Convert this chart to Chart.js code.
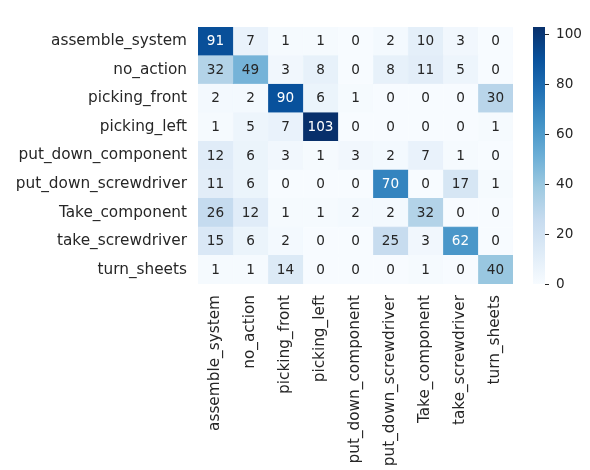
<!DOCTYPE html>
<html>
<head>
<meta charset="utf-8">
<script src="https://cdn.jsdelivr.net/npm/chart.js@4"></script>
<style>
  html, body { margin: 0; padding: 0; background: #fff; }
</style>
</head>
<body>
<canvas id="confusion" width="590" height="470"></canvas>
<script>
const classes = ['assemble_system', 'no_action', 'picking_front', 'picking_left',
  'put_down_component', 'put_down_screwdriver', 'Take_component', 'take_screwdriver', 'turn_sheets'];

// rows = true label, columns = predicted label
const counts = [
  [91, 7, 1, 1, 0, 2, 10, 3, 0],
  [32, 49, 3, 8, 0, 8, 11, 5, 0],
  [2, 2, 90, 6, 1, 0, 0, 0, 30],
  [1, 5, 7, 103, 0, 0, 0, 0, 1],
  [12, 6, 3, 1, 3, 2, 7, 1, 0],
  [11, 6, 0, 0, 0, 70, 0, 17, 1],
  [26, 12, 1, 1, 2, 2, 32, 0, 0],
  [15, 6, 2, 0, 0, 25, 3, 62, 0],
  [1, 1, 14, 0, 0, 0, 1, 0, 40]
];

const colorbarTicks = [0, 20, 40, 60, 80, 100];
const vmin = 0;
const vmax = 103;

const TEXT = '#262626';
const FONT = 'DejaVu Sans';

// matplotlib "Blues"
const blues = ['#f7fbff', '#deebf7', '#c6dbef', '#9ecae1', '#6baed6',
  '#4292c6', '#2171b5', '#08519c', '#08306b'];

function hexToRgb(h) {
  return [1, 3, 5].map(i => parseInt(h.slice(i, i + 2), 16));
}
const bluesRgb = blues.map(hexToRgb);

function bluesAt(v) {
  let t = (v - vmin) / (vmax - vmin);
  t = Math.max(0, Math.min(1, t));
  const pos = t * (bluesRgb.length - 1);
  const i = Math.min(Math.floor(pos), bluesRgb.length - 2);
  const f = pos - i;
  const a = bluesRgb[i], b = bluesRgb[i + 1];
  return a.map((c, k) => Math.round(c + (b[k] - c) * f));
}

function rgbStr(c) {
  return 'rgb(' + c.join(',') + ')';
}

// same rule seaborn uses to pick white or dark annotation text
function annotColor(c) {
  const lin = c.map(x => {
    x = x / 255;
    return x <= 0.03928 ? x / 12.92 : Math.pow((x + 0.055) / 1.055, 2.4);
  });
  const lum = 0.2126 * lin[0] + 0.7152 * lin[1] + 0.0722 * lin[2];
  return lum > 0.408 ? TEXT : '#ffffff';
}

// one dataset per predicted column, each cell a floating bar [j, j+1]
const datasets = classes.map((c, j) => ({
  label: c,
  data: classes.map(() => [j, j + 1]),
  backgroundColor: counts.map(row => rgbStr(bluesAt(row[j]))),
  borderColor: counts.map(row => rgbStr(bluesAt(row[j]))),
  borderWidth: 0.6,
  borderSkipped: false,
  barPercentage: 1,
  categoryPercentage: 1,
  grouped: false
}));

const cellLabels = {
  id: 'cellLabels',
  afterDatasetsDraw(chart) {
    const ctx = chart.ctx;
    ctx.save();
    ctx.font = '13.6px ' + FONT;
    ctx.textAlign = 'center';
    ctx.textBaseline = 'middle';
    chart.data.datasets.forEach((ds, j) => {
      chart.getDatasetMeta(j).data.forEach((bar, i) => {
        const v = counts[i][j];
        const p = bar.getCenterPoint();
        ctx.fillStyle = annotColor(bluesAt(v));
        ctx.fillText(String(v), p.x, p.y + 0.5);
      });
    });
    ctx.restore();
  }
};

const colorbar = {
  id: 'colorbar',
  afterDraw(chart) {
    const s = chart.scales.cb;
    const ctx = chart.ctx;
    const x0 = s.left + 20, w = 12;
    const yTop = s.getPixelForValue(vmax), yBot = s.getPixelForValue(vmin);
    const g = ctx.createLinearGradient(0, yBot, 0, yTop);
    blues.forEach((c, i) => g.addColorStop(i / (blues.length - 1), c));
    ctx.save();
    ctx.fillStyle = g;
    ctx.fillRect(x0, yTop, w, yBot - yTop);
    ctx.strokeStyle = TEXT;
    ctx.lineWidth = 1;
    colorbarTicks.forEach(t => {
      const y = Math.round(s.getPixelForValue(t)) + 0.5;
      ctx.beginPath();
      ctx.moveTo(x0 + w, y);
      ctx.lineTo(x0 + w + 4, y);
      ctx.stroke();
    });
    ctx.restore();
  }
};

new Chart(document.getElementById('confusion'), {
  type: 'bar',
  data: { labels: classes, datasets: datasets },
  options: {
    indexAxis: 'y',
    responsive: false,
    animation: false,
    layout: { padding: { top: 27, left: 0, right: 0, bottom: 0 } },
    plugins: { legend: { display: false }, tooltip: { enabled: false } },
    scales: {
      x: {
        type: 'linear',
        min: 0,
        max: classes.length,
        grid: { display: false, drawTicks: false },
        border: { display: false },
        afterBuildTicks: s => { s.ticks = classes.map((c, i) => ({ value: i + 0.5 })); },
        afterFit: s => { s.height = 186; },
        ticks: {
          autoSkip: false,
          minRotation: 90,
          maxRotation: 90,
          padding: 11,
          color: TEXT,
          font: { family: FONT, size: 15.3 },
          callback: (v, i) => classes[i]
        }
      },
      y: {
        type: 'category',
        position: 'left',
        grid: { display: false, drawTicks: false },
        border: { display: false },
        afterFit: s => { s.width = 198; s.paddingTop = 0; s.paddingBottom = 0; },
        ticks: {
          padding: 11,
          color: TEXT,
          font: { family: FONT, size: 15.3 }
        }
      },
      cb: {
        type: 'linear',
        position: 'right',
        offset: false,
        min: vmin,
        max: vmax,
        grid: { display: false, drawTicks: false },
        border: { display: false },
        afterBuildTicks: s => { s.ticks = colorbarTicks.map(v => ({ value: v })); },
        afterFit: s => { s.width = 77; s.paddingTop = 0; s.paddingBottom = 0; },
        ticks: {
          padding: 43,
          color: TEXT,
          font: { family: FONT, size: 13.6 }
        }
      }
    }
  },
  plugins: [cellLabels, colorbar]
});
</script>
</body>
</html>
